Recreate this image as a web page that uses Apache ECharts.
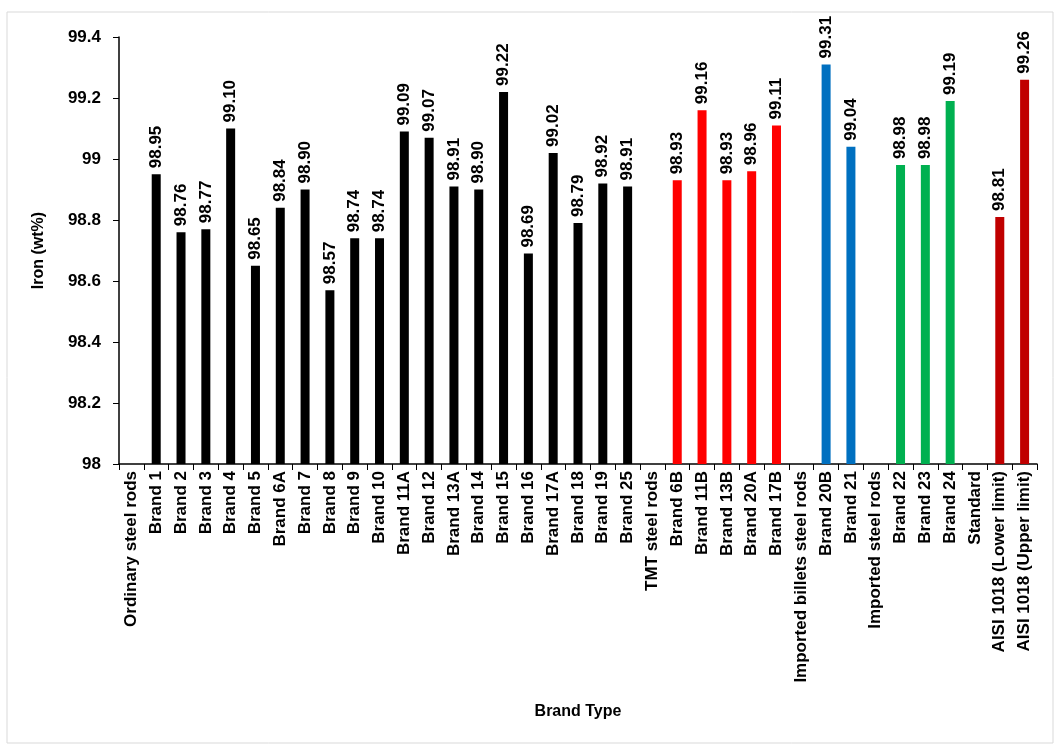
<!DOCTYPE html>
<html>
<head>
<meta charset="utf-8">
<script src="https://cdn.jsdelivr.net/npm/echarts@6/dist/echarts.min.js"></script>
<style>
html, body { margin: 0; padding: 0; background: #fff; }
#main { width: 1054px; height: 744px; }
</style>
</head>
<body>
<div id="main"></div>
<script>
// category labels (group headers have no bar)
var categories = ['Ordinary steel rods', 'Brand 1', 'Brand 2', 'Brand 3', 'Brand 4', 'Brand 5', 'Brand 6A', 'Brand 7',
  'Brand 8', 'Brand 9', 'Brand 10', 'Brand 11A', 'Brand 12', 'Brand 13A', 'Brand 14', 'Brand 15', 'Brand 16',
  'Brand 17A', 'Brand 18', 'Brand 19', 'Brand 25', 'TMT steel rods', 'Brand 6B', 'Brand 11B', 'Brand 13B',
  'Brand 20A', 'Brand 17B', 'Imported billets steel rods', 'Brand 20B', 'Brand 21', 'Imported steel rods',
  'Brand 22', 'Brand 23', 'Brand 24', 'Standard', 'AISI 1018 (Lower limit)', 'AISI 1018 (Upper limit)'];

var ironValues = [null, 98.95, 98.76, 98.77, 99.10, 98.65, 98.84, 98.90, 98.57, 98.74, 98.74, 99.09, 99.07,
  98.91, 98.90, 99.22, 98.69, 99.02, 98.79, 98.92, 98.91, null, 98.93, 99.16, 98.93, 98.96, 99.11, null,
  99.31, 99.04, null, 98.98, 98.98, 99.19, null, 98.81, 99.26];

// colour group for each category
var groups = ['', 'o', 'o', 'o', 'o', 'o', 'o', 'o', 'o', 'o', 'o', 'o', 'o', 'o', 'o', 'o', 'o', 'o', 'o', 'o', 'o',
  '', 't', 't', 't', 't', 't', '', 'b', 'b', '', 'i', 'i', 'i', '', 's', 's'];
var groupColors = { o: '#000000', t: '#ff0000', b: '#0070c0', i: '#00b050', s: '#c00000' };

var yTicks = { min: 98, max: 99.4, step: 0.2 };

var myChart = echarts.init(document.getElementById('main'));

var barData = ironValues.map(function (v, i) {
  return { value: v, itemStyle: { color: groupColors[groups[i]] || '#000' } };
});

var option = {
  backgroundColor: '#fff',
  textStyle: { fontFamily: 'Liberation Sans' },
  graphic: [{
    type: 'rect',
    shape: { x: 7, y: 12, width: 1046, height: 731 },
    style: { fill: 'none', stroke: '#d9d9d9', lineWidth: 1 },
    silent: true
  }],
  grid: { left: 119, right: 17, top: 37, bottom: 280 },
  xAxis: {
    type: 'category',
    data: categories,
    name: 'Brand Type',
    nameLocation: 'middle',
    nameGap: 240,
    nameTextStyle: { fontWeight: 'bold', fontSize: 16, color: '#000' },
    axisLine: { lineStyle: { color: '#000', width: 1.5 } },
    axisTick: { show: true, length: 6, lineStyle: { color: '#000' } },
    axisLabel: { interval: 0, rotate: 90, fontWeight: 'bold', fontSize: 17, color: '#000', margin: 7 }
  },
  yAxis: {
    type: 'value',
    min: yTicks.min,
    max: yTicks.max,
    interval: yTicks.step,
    name: 'Iron (wt%)',
    nameLocation: 'middle',
    nameGap: 72,
    nameTextStyle: { fontWeight: 'bold', fontSize: 16, color: '#000' },
    axisLine: { show: true, lineStyle: { color: '#000', width: 1.5 } },
    axisTick: { show: true, length: 6, lineStyle: { color: '#000' } },
    splitLine: { show: false },
    axisLabel: { fontWeight: 'bold', fontSize: 17, color: '#000', margin: 18 }
  },
  series: [{
    type: 'bar',
    data: barData,
    barWidth: 9,
    label: {
      show: true,
      position: 'top',
      rotate: 90,
      align: 'left',
      verticalAlign: 'middle',
      distance: 6,
      fontWeight: 'bold',
      fontSize: 17,
      color: '#000',
      formatter: function (p) { return p.value == null ? '' : p.value.toFixed(2); }
    }
  }]
};
myChart.setOption(option);

window.onresize = function () {
  myChart.resize();
};
</script>
</body>
</html>
